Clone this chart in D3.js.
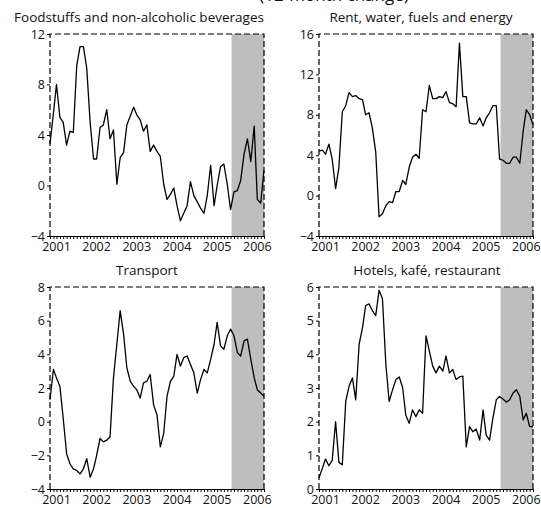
<!DOCTYPE html>
<html>
<head>
<meta charset="utf-8">
<script src="https://cdn.jsdelivr.net/npm/d3@7"></script>
<style>
  body { margin: 0; background: #fff; }
  svg { display: block; }
  text { font-family: "Open Sans", sans-serif; fill: #111; }
</style>
</head>
<body>
<div id="chart"></div>
<script>
// monthly data, Jan 2001 - May 2006
let startMonth = new Date(2001, 0, 1);
let forecastStart = new Date(2005, 6, 10);

let foodstuffs = [3.3, 5.7, 8.0, 5.4, 5.0, 3.2, 4.3, 4.2, 9.5, 11.0,
    11.0, 9.3, 5.0, 2.1, 2.1, 4.6, 4.8, 6.0, 3.7, 4.4,
    0.1, 2.2, 2.6, 4.8, 5.5, 6.2, 5.6, 5.2, 4.3, 4.8,
    2.7, 3.2, 2.7, 2.3, 0.1, -1.1, -0.7, -0.2, -1.6, -2.8,
    -2.2, -1.6, 0.3, -0.8, -1.3, -1.8, -2.2, -0.8, 1.6, -1.6,
    0.0, 1.5, 1.7, 0.1, -1.9, -0.5, -0.4, 0.4, 2.5, 3.7,
    1.9, 4.7, -1.1, -1.4, 1.2];

let rent = [4.4, 4.5, 4.1, 5.1, 3.6, 0.7, 2.8, 8.3, 8.9, 10.2,
    9.8, 9.9, 9.6, 9.5, 8.0, 8.2, 6.7, 4.3, -2.1, -1.8,
    -1.0, -0.6, -0.7, 0.4, 0.4, 1.5, 1.1, 2.8, 3.8, 4.1,
    3.7, 8.5, 8.3, 10.9, 9.6, 9.6, 9.8, 9.7, 10.3, 9.2,
    9.1, 8.8, 15.1, 9.8, 9.8, 7.2, 7.1, 7.1, 7.7, 6.9,
    7.7, 8.2, 8.9, 8.9, 3.6, 3.5, 3.2, 3.2, 3.8, 3.8,
    3.2, 6.4, 8.5, 8.0, 7.0];

let transport = [1.3, 3.1, 2.6, 2.1, 0.2, -1.9, -2.5, -2.8, -2.9, -3.1,
    -2.8, -2.2, -3.3, -2.8, -2.0, -1.0, -1.2, -1.1, -0.9, 2.6,
    4.6, 6.6, 5.2, 3.2, 2.4, 2.1, 1.9, 1.4, 2.3, 2.4,
    2.8, 1.0, 0.4, -1.5, -0.7, 1.5, 2.4, 2.7, 4.0, 3.3,
    3.8, 3.9, 3.4, 2.9, 1.7, 2.5, 3.1, 2.9, 3.7, 4.6,
    5.9, 4.5, 4.3, 5.1, 5.5, 5.1, 4.1, 3.9, 4.8, 4.9,
    3.7, 2.6, 1.9, 1.7, 1.5];

let hotels = [0.33, 0.62, 0.89, 0.69, 0.85, 2.0, 0.79, 0.72, 2.6, 3.05,
    3.3, 2.65, 4.3, 4.8, 5.45, 5.5, 5.3, 5.15, 5.9, 5.65,
    3.7, 2.6, 2.95, 3.25, 3.33, 3.0, 2.2, 1.95, 2.35, 2.15,
    2.35, 2.25, 4.55, 4.1, 3.65, 3.45, 3.65, 3.5, 3.95, 3.45,
    3.55, 3.25, 3.33, 3.35, 1.25, 1.85, 1.7, 1.78, 1.45, 2.35,
    1.6, 1.45, 2.1, 2.65, 2.75, 2.67, 2.58, 2.65, 2.85, 2.95,
    2.75, 2.05, 2.25, 1.85, 1.85];

let titles = ["Foodstuffs and non-alcoholic beverages", "Rent, water, fuels and energy",
    "Transport", "Hotels, kafé, restaurant"];
let yTicks = [[-4, 0, 4, 8, 12], [-4, 0, 4, 8, 12, 16],
    [-4, -2, 0, 2, 4, 6, 8], [0, 1, 2, 3, 4, 5, 6]];
let yearLabels = [2001, 2002, 2003, 2004, 2005, 2006];

let series = [foodstuffs, rent, transport, hotels];

let width = 541, height = 508;
let plotW = 214, plotH = 202;
let origins = [[50, 34], [319, 34], [50, 287], [319, 287]];
let titleX = [139, 421, 147, 427];

let svg = d3.select("#chart").append("svg")
    .attr("width", width)
    .attr("height", height);

// heading, cut off at the very top as in the original
svg.append("text")
    .attr("x", 334)
    .attr("y", 1)
    .attr("text-anchor", "middle")
    .style("font-size", "17px")
    .text("(12-month change)");

let months = foodstuffs.map((d, i) => d3.timeMonth.offset(startMonth, i));

let x = d3.scaleTime()
    .domain([startMonth, months[months.length - 1]])
    .range([0, plotW]);

series.forEach((values, p) => {
    let [ox, oy] = origins[p];
    let ticks = yTicks[p];
    let g = svg.append("g").attr("transform", `translate(${ox},${oy})`);

    let y = d3.scaleLinear()
        .domain([ticks[0], ticks[ticks.length - 1]])
        .range([plotH, 0]);

    // forecast shading
    g.append("rect")
        .attr("x", x(forecastStart))
        .attr("y", 0)
        .attr("width", plotW - x(forecastStart))
        .attr("height", plotH)
        .attr("fill", "#bebebe");

    // dashed frame: left, top, right
    g.append("path")
        .attr("d", `M0,${plotH}V0H${plotW}V${plotH}`)
        .attr("fill", "none")
        .attr("stroke", "#000")
        .attr("stroke-width", 1.2)
        .attr("stroke-dasharray", "6,3");

    // y axis
    let yAxis = g.append("g")
        .call(d3.axisLeft(y).tickValues(ticks).tickSize(3).tickPadding(2).tickFormat(d3.format("d")));
    yAxis.select(".domain").remove();
    yAxis.selectAll("text").style("font-size", "12.5px").attr("fill", "#111");

    // x axis with monthly ticks
    let xAxis = g.append("g")
        .attr("transform", `translate(0,${plotH})`)
        .call(d3.axisBottom(x).ticks(d3.timeMonth.every(1)).tickSize(3).tickSizeOuter(0).tickFormat(""));
    xAxis.select(".domain").attr("stroke-width", 1.2);

    xAxis.selectAll(".yearLabel")
        .data(yearLabels)
        .enter().append("text")
        .attr("class", "yearLabel")
        .attr("x", d => x(new Date(d, 2, 1)))
        .attr("y", 15)
        .attr("text-anchor", "middle")
        .style("font-size", "12.5px")
        .text(d => d);

    // line
    let line = d3.line()
        .x((d, i) => x(months[i]))
        .y(d => y(d));

    g.append("path")
        .datum(values)
        .attr("fill", "none")
        .attr("stroke", "#000")
        .attr("stroke-width", 1.3)
        .attr("stroke-linejoin", "round")
        .attr("d", line);

    // title
    svg.append("text")
        .attr("x", titleX[p])
        .attr("y", oy - 12)
        .attr("text-anchor", "middle")
        .style("font-size", "13.5px")
        .text(titles[p]);
});
</script>
</body>
</html>
